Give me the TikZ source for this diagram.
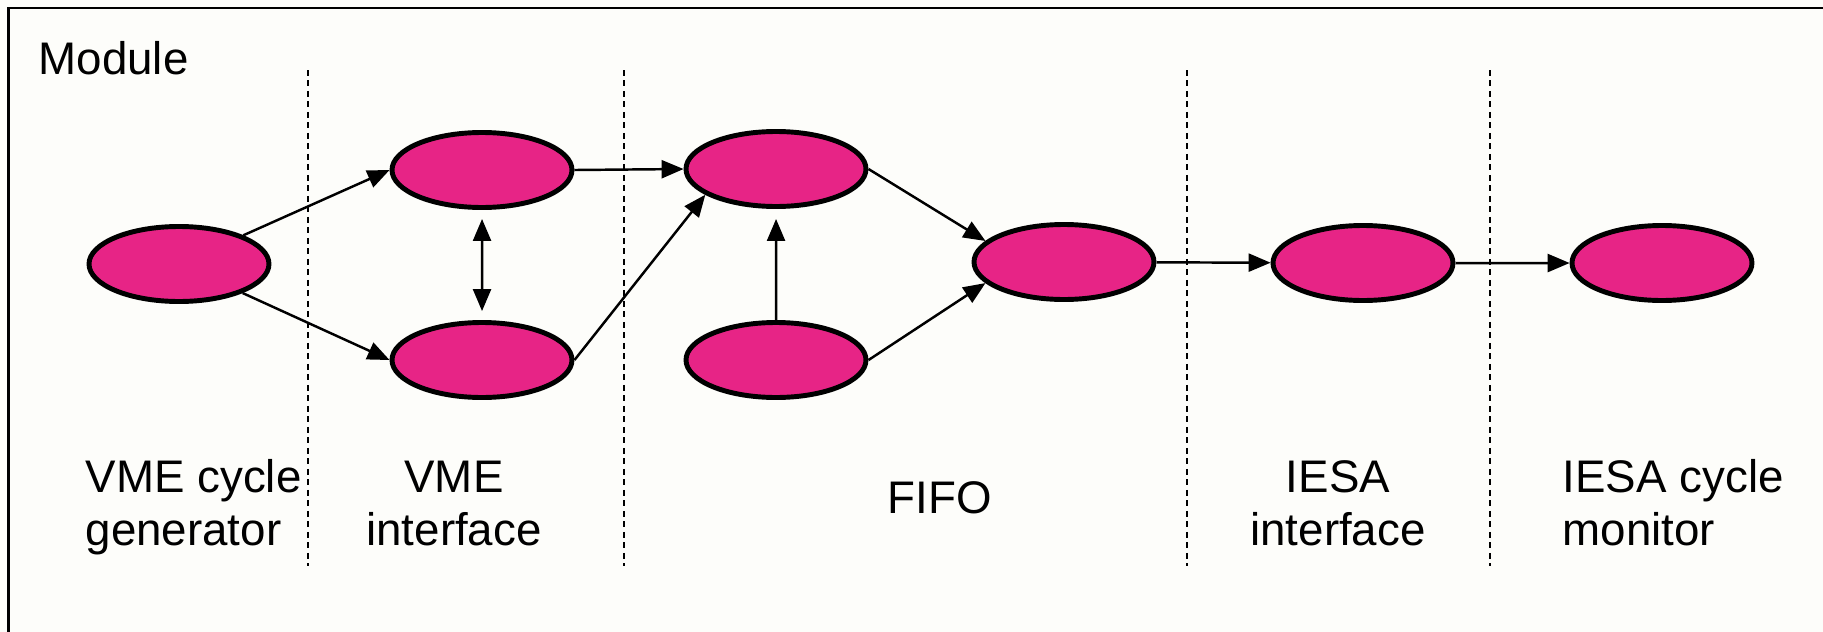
\documentclass[tikz,border=0pt]{standalone}
\usepackage{fontspec}
\setmainfont{Liberation Sans}
\usepackage{xcolor}
\usetikzlibrary{positioning,shapes,arrows.meta}

\definecolor{statepink}{RGB}{231,36,134}
\definecolor{paper}{RGB}{253,253,250}

\begin{document}
\begin{tikzpicture}[scale=0.1,>={Triangle[length=0.22cm,width=0.18cm]}]
\tikzstyle{every node}+=[inner sep=0pt]
\tikzstyle{state}=[ellipse,draw=black,fill=statepink,line width=1.4pt,minimum width=1.8cm,minimum height=0.75cm]
\tikzstyle{flow}=[black,line width=0.7pt,->]
\tikzstyle{divider}=[black,line width=0.6pt,dash pattern=on 0.6mm off 0.45mm]
\tikzstyle{label}=[font=\fontsize{13}{14.8}\selectfont]
\useasboundingbox (0,0) rectangle (182.3,-63.2);
\fill [paper] (0,0) rectangle (182.3,-63.2);
\draw [black,line width=0.7pt] (0.85,-63.2) |- (182.3,-0.8);
% section dividers
\foreach \x in {30.8,62.4,118.7,149.0}
  \draw [divider] (\x,-7.0) -- (\x,-56.6);
% states
\node [state] (gen) at (17.9,-26.4) {};
\node [state] (vmeA) at (48.2,-17.0) {};
\node [state] (vmeB) at (48.2,-36.0) {};
\node [state] (fifoA) at (77.6,-16.9) {};
\node [state] (fifoB) at (77.6,-36.0) {};
\node [state] (fifoC) at (106.4,-26.2) {};
\node [state] (iesa) at (136.3,-26.3) {};
\node [state] (mon) at (166.2,-26.3) {};
% transitions
\draw [flow] (gen) -- (vmeA.west);
\draw [flow] (gen) -- (vmeB.west);
\draw [flow,<->,shorten >=0.09cm,shorten <=0.09cm] (vmeA) -- (vmeB);
\draw [flow] (vmeA.east) -- (fifoA.west);
\draw [flow] (vmeB.east) -- (fifoA.200);
\draw [flow,shorten >=0.1cm] (fifoB) -- (fifoA);
\draw [flow] (fifoA.east) -- (fifoC.165);
\draw [flow] (fifoB.east) -- (fifoC.195);
\draw [flow] (fifoC) -- (iesa);
\draw [flow] (iesa) -- (mon);
% labels (base = last line)
\node [label,anchor=base west] (title) at (3.8,-7.4) {Module};
\node [label,anchor=base west,align=left] (genlbl) at (8.5,-54.5) {VME cycle\\generator};
\node [label,anchor=base,align=center] (vmelbl) at (45.4,-54.5) {VME\\interface};
\node [label,anchor=base] (fifolbl) at (94.0,-51.3) {FIFO};
\node [label,anchor=base,align=center] (iesalbl) at (133.8,-54.5) {IESA\\interface};
\node [label,anchor=base west,align=left] (monlbl) at (156.2,-54.5) {IESA cycle\\monitor};
\end{tikzpicture}
\end{document}
